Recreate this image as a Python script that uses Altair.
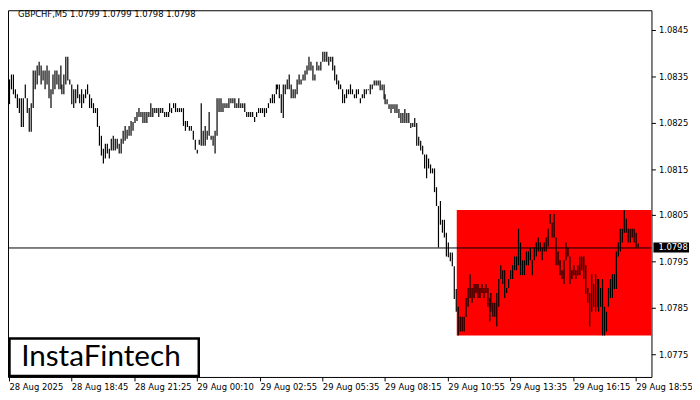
import altair as alt
import pandas as pd

title_text = "GBPCHF,M5  1.0799 1.0799 1.0798 1.0798"
logo_text = "InstaFintech"

# High / low of every 5-minute bar (GBPCHF, M5), oldest first
highs = [
    1.08343, 1.08354, 1.08354, 1.08322, 1.08311, 1.08303, 1.08303, 1.08303, 1.08333, 1.08303,
    1.08281, 1.08292, 1.08363, 1.08363, 1.08373, 1.08382, 1.08373, 1.08363, 1.08363, 1.08373,
    1.08363, 1.08322, 1.08354, 1.08363, 1.08363, 1.08354, 1.08373, 1.08333, 1.08354, 1.08392,
    1.08392, 1.08343, 1.08333, 1.08322, 1.08322, 1.08333, 1.08311, 1.08322, 1.08311, 1.08322,
    1.08333, 1.08311, 1.08303, 1.08292, 1.08281, 1.08281,
    1.08243, 1.08222, 1.08194, 1.08205, 1.08205, 1.08194, 1.08215, 1.08222, 1.08215, 1.08215,
    1.08205, 1.08215, 1.08232, 1.08243, 1.08235, 1.08243, 1.08254, 1.08252, 1.08262, 1.08273,
    1.08281, 1.08273, 1.08273, 1.08273, 1.08273, 1.08273, 1.08292, 1.08281, 1.08281, 1.08281,
    1.08281, 1.08281, 1.08281, 1.08273, 1.08273, 1.08273, 1.08292, 1.08281, 1.08292, 1.08292,
    1.08281, 1.08281, 1.08281, 1.08281, 1.08254, 1.08254, 1.08243,
    1.08243, 1.08232, 1.08213, 1.08192, 1.08213, 1.08292, 1.08232, 1.08243, 1.08232, 1.08273,
    1.08222, 1.08222, 1.08232, 1.08303, 1.08303, 1.08303, 1.08292, 1.08292, 1.08292, 1.08303,
    1.08303, 1.08303, 1.08303, 1.08292, 1.08303, 1.08292, 1.08292, 1.08292, 1.08273, 1.08273,
    1.08273, 1.08273, 1.08262, 1.08273, 1.08281, 1.08281, 1.08281, 1.08281, 1.08281, 1.08292,
    1.08303, 1.08311, 1.08311, 1.08333, 1.08333, 1.08333,
    1.08311, 1.08333, 1.08333, 1.08343, 1.08354, 1.08333, 1.08322, 1.08322, 1.08343, 1.08354,
    1.08343, 1.08354, 1.08363, 1.08373, 1.08392, 1.08382, 1.08373, 1.08354, 1.08382, 1.08373,
    1.08382, 1.08403, 1.08403, 1.08403, 1.08392, 1.08392, 1.08392, 1.08373, 1.08354, 1.08341,
    1.08333, 1.08322, 1.08311, 1.08322, 1.08322, 1.08333, 1.08322, 1.08311, 1.08322, 1.08322,
    1.08303, 1.08311, 1.08322, 1.08322, 1.08322, 1.08333, 1.08333,
    1.08341, 1.08341, 1.08341, 1.08341, 1.08333, 1.08333, 1.08311, 1.08301, 1.08290, 1.08290,
    1.08290, 1.08290, 1.08290, 1.08279, 1.08271, 1.08271, 1.08279, 1.08271, 1.08271, 1.08249,
    1.08249, 1.08260, 1.08249, 1.08220, 1.08211, 1.08200, 1.08181, 1.08181, 1.08173, 1.08160,
    1.08151, 1.08151, 1.08111, 1.08070, 1.08081, 1.08040, 1.08040, 1.08013, 1.07991, 1.07970,
    1.07970, 1.07940, 1.07891,
    1.07853, 1.07831, 1.07831, 1.07831, 1.07872, 1.07893, 1.07923, 1.07893, 1.07902, 1.07902,
    1.07902, 1.07893, 1.07902, 1.07893, 1.07902, 1.07893, 1.07872, 1.07882, 1.07861, 1.07861,
    1.07882, 1.07912, 1.07942, 1.07931, 1.07931, 1.07893, 1.07912, 1.07931, 1.07942, 1.07961,
    1.07961, 1.08021, 1.07991, 1.07953, 1.07953, 1.07972, 1.07972, 1.07981, 1.07953, 1.07981,
    1.07991, 1.08002, 1.07991, 1.07981, 1.07991, 1.08002, 1.08021, 1.08053, 1.08034, 1.08053,
    1.08002, 1.07972, 1.07953, 1.07931, 1.07953, 1.07991, 1.07981, 1.07961, 1.07931, 1.07942,
    1.07931, 1.07942, 1.07961, 1.07961, 1.07961, 1.07942, 1.07893, 1.07882, 1.07923, 1.07902,
    1.07923, 1.07912, 1.07912, 1.07893, 1.07912, 1.07853, 1.07842, 1.07893, 1.07912, 1.07923,
    1.07923, 1.07972, 1.07991, 1.08021, 1.08021, 1.08061, 1.08042, 1.08021, 1.08021, 1.08021,
    1.08021, 1.08013, 1.07990,
]
lows = [
    1.08290, 1.08322, 1.08311, 1.08303, 1.08281, 1.08271, 1.08241, 1.08241, 1.08303, 1.08271,
    1.08230, 1.08230, 1.08281, 1.08322, 1.08333, 1.08352, 1.08333, 1.08341, 1.08322, 1.08333,
    1.08303, 1.08281, 1.08311, 1.08322, 1.08333, 1.08322, 1.08322, 1.08311, 1.08311, 1.08333,
    1.08341, 1.08333, 1.08290, 1.08281, 1.08292, 1.08303, 1.08292, 1.08281, 1.08292, 1.08303,
    1.08311, 1.08281, 1.08281, 1.08271, 1.08271, 1.08241,
    1.08200, 1.08179, 1.08162, 1.08173, 1.08183, 1.08173, 1.08190, 1.08190, 1.08190, 1.08194,
    1.08183, 1.08183, 1.08205, 1.08211, 1.08215, 1.08222, 1.08222, 1.08232, 1.08249, 1.08254,
    1.08262, 1.08262, 1.08249, 1.08249, 1.08249, 1.08262, 1.08262, 1.08262, 1.08271, 1.08271,
    1.08262, 1.08271, 1.08271, 1.08262, 1.08262, 1.08262, 1.08273, 1.08271, 1.08281, 1.08273,
    1.08273, 1.08273, 1.08273, 1.08243, 1.08232, 1.08241, 1.08232,
    1.08232, 1.08213, 1.08192, 1.08183, 1.08202, 1.08200, 1.08200, 1.08200, 1.08213, 1.08222,
    1.08213, 1.08200, 1.08183, 1.08222, 1.08273, 1.08273, 1.08273, 1.08281, 1.08281, 1.08281,
    1.08292, 1.08292, 1.08281, 1.08281, 1.08281, 1.08281, 1.08281, 1.08273, 1.08262, 1.08262,
    1.08262, 1.08262, 1.08252, 1.08262, 1.08271, 1.08271, 1.08271, 1.08262, 1.08271, 1.08281,
    1.08292, 1.08292, 1.08292, 1.08311, 1.08322, 1.08303,
    1.08271, 1.08260, 1.08311, 1.08322, 1.08322, 1.08303, 1.08303, 1.08303, 1.08311, 1.08333,
    1.08333, 1.08341, 1.08341, 1.08354, 1.08363, 1.08363, 1.08341, 1.08341, 1.08363, 1.08363,
    1.08363, 1.08382, 1.08382, 1.08382, 1.08373, 1.08382, 1.08363, 1.08341, 1.08333, 1.08322,
    1.08322, 1.08292, 1.08292, 1.08303, 1.08311, 1.08311, 1.08311, 1.08303, 1.08303, 1.08311,
    1.08292, 1.08303, 1.08303, 1.08311, 1.08320, 1.08311, 1.08322,
    1.08330, 1.08330, 1.08330, 1.08320, 1.08320, 1.08301, 1.08290, 1.08290, 1.08279, 1.08271,
    1.08279, 1.08271, 1.08271, 1.08260, 1.08249, 1.08249, 1.08249, 1.08249, 1.08249, 1.08239,
    1.08241, 1.08241, 1.08200, 1.08200, 1.08190, 1.08181, 1.08151, 1.08130, 1.08151, 1.08141,
    1.08141, 1.08100, 1.08070, 1.07981, 1.08030, 1.08013, 1.08002, 1.07961, 1.07959, 1.07951,
    1.07940, 1.07870, 1.07842,
    1.07791, 1.07799, 1.07799, 1.07799, 1.07831, 1.07853, 1.07872, 1.07861, 1.07872, 1.07882,
    1.07872, 1.07872, 1.07882, 1.07872, 1.07882, 1.07853, 1.07821, 1.07842, 1.07831, 1.07831,
    1.07810, 1.07853, 1.07912, 1.07902, 1.07872, 1.07882, 1.07893, 1.07912, 1.07912, 1.07931,
    1.07931, 1.07942, 1.07921, 1.07921, 1.07921, 1.07942, 1.07942, 1.07953, 1.07921, 1.07953,
    1.07961, 1.07972, 1.07972, 1.07953, 1.07972, 1.07972, 1.07983, 1.08032, 1.08002, 1.08002,
    1.07942, 1.07942, 1.07921, 1.07912, 1.07902, 1.07953, 1.07961, 1.07902, 1.07912, 1.07921,
    1.07912, 1.07921, 1.07921, 1.07931, 1.07912, 1.07880, 1.07861, 1.07810, 1.07842, 1.07853,
    1.07842, 1.07853, 1.07842, 1.07853, 1.07791, 1.07791, 1.07799, 1.07853, 1.07872, 1.07872,
    1.07891, 1.07891, 1.07961, 1.07972, 1.07991, 1.08013, 1.08013, 1.07991, 1.07991, 1.08002,
    1.07991, 1.07981, 1.07980,
]

time_tick_bars = [0, 32, 64, 96, 128, 160, 192, 224, 256, 288, 320]
time_tick_labels = ["28 Aug 2025", "28 Aug 18:45", "28 Aug 21:25", "29 Aug 00:10",
                    "29 Aug 02:55", "29 Aug 05:35", "29 Aug 08:15", "29 Aug 10:55",
                    "29 Aug 13:35", "29 Aug 16:15", "29 Aug 18:55"]
price_ticks = [1.0775, 1.0785, 1.0795, 1.0805, 1.0815, 1.0825, 1.0835, 1.0845]
current_price = 1.0798
current_label = "1.0798"

zone_start_bar = 229
zone_end_bar = 340
zone_top = 1.08062
zone_bottom = 1.07791

x_domain = [-0.5, 328]
y_domain = [1.077009, 1.084927]

FONT = "DejaVu Sans"
FS = 8.5

n = min(len(highs), len(lows))
bars = pd.DataFrame({"bar": list(range(n)), "high": highs[:n], "low": lows[:n]})

xs = alt.Scale(domain=x_domain, nice=False, zero=False, round=True)
ys = alt.Scale(domain=y_domain, nice=False, zero=False, round=True)

label_array = "[" + ",".join("'" + s + "'" for s in time_tick_labels) + "]"

x_axis = alt.Axis(values=time_tick_bars, labelExpr=label_array + "[round(datum.value/32)]",
                  labelAlign="left", labelBaseline="top", labelFlush=False, labelOverlap=False,
                  tickSize=4, tickColor="black", labelPadding=2, domain=False, grid=False,
                  title=None, labelFont=FONT, labelFontSize=FS, labelColor="black")
y_axis = alt.Axis(orient="right", values=price_ticks, format=".4f", tickSize=4, tickColor="black",
                  labelPadding=3, domain=False, grid=False, title=None, labelFont=FONT,
                  labelFontSize=FS, labelColor="black")


def X(field):
    return alt.X(field, type="quantitative", scale=xs, axis=x_axis)


def Y(field):
    return alt.Y(field, type="quantitative", scale=ys, axis=y_axis)


zone_df = pd.DataFrame({"x0": [zone_start_bar - 0.25], "x1": [zone_end_bar],
                        "top": [zone_top], "bottom": [zone_bottom]})
zone = alt.Chart(zone_df).mark_rect(color="#FF0000", clip=True).encode(
    x=X("x0"), x2="x1:Q", y=Y("top"), y2="bottom:Q")

bar_layer = alt.Chart(bars).mark_rule(color="black", strokeWidth=1.2, xOffset=0.5,
                                      strokeCap="butt").encode(
    x=X("bar"), y=Y("high"), y2="low:Q")

price_df = pd.DataFrame({"p": [current_price], "lab": [current_label],
                         "hi": [current_price + 0.000112], "lo": [current_price - 0.000105]})
price_line = alt.Chart(price_df).mark_rule(color="black", strokeWidth=1, yOffset=0.5).encode(
    y=Y("p"))
price_box = alt.Chart(price_df).mark_rect(color="black").encode(
    x=alt.value(653), x2=alt.value(689), y=Y("hi"), y2="lo:Q")
price_text = alt.Chart(price_df).mark_text(color="white", align="left", baseline="middle",
                                            font=FONT, fontSize=FS).encode(
    x=alt.value(658), y=Y("p"), text="lab:N")

title_df = pd.DataFrame({"t": [title_text]})
title = alt.Chart(title_df).mark_text(align="left", baseline="middle", font=FONT, fontSize=8.5,
                                       color="black").encode(
    x=alt.value(10), y=alt.value(4), text="t:N")

logo_df = pd.DataFrame({"t": [logo_text]})
logo_box = alt.Chart(logo_df).mark_rect(fill="white", stroke="black", strokeWidth=2.5).encode(
    x=alt.value(1.5), x2=alt.value(193), y=alt.value(332), y2=alt.value(370))
logo = alt.Chart(logo_df).mark_text(align="center", baseline="middle", font="Lato",
                                     fontSize=30, color="black").encode(
    x=alt.value(94), y=alt.value(351), text="t:N")

chart = alt.layer(zone, bar_layer, price_line, price_box, price_text, title,
                  logo_box, logo).properties(
    width=651, height=371,
    padding={"left": 0, "top": 0, "right": 41, "bottom": 20},
    autosize=alt.AutoSizeParams(type="none"),
    background="white",
).configure_view(stroke="black", strokeWidth=1)

chart.save("out.html", embed_options={"renderer": "svg", "actions": False})
